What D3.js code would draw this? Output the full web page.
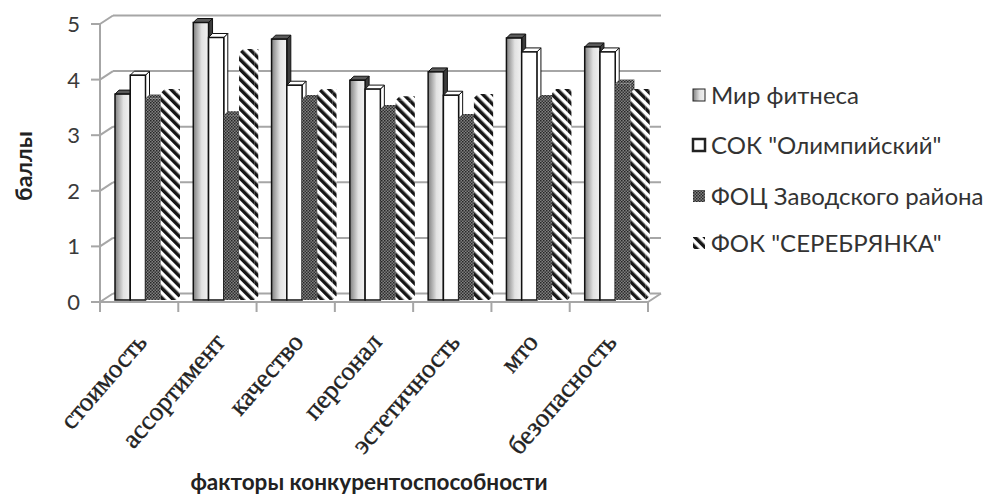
<!DOCTYPE html>
<html><head><meta charset="utf-8">
<script src="https://cdn.jsdelivr.net/npm/d3@7"></script>
<style>body{margin:0;background:#fff}</style>
</head><body><svg id="c" width="989" height="496"></svg>
<script>
const categories = ["стоимость","ассортимент","качество","персонал","эстетичность","мто","безопасность"];
const seriesNames = ["Мир фитнеса","СОК \"Олимпийский\"","ФОЦ Заводского района","ФОК \"СЕРЕБРЯНКА\""];
const mirFitnesa = [3.71,5.0,4.7,3.96,4.11,4.72,4.56];
const sokOlimp   = [4.05,4.73,3.87,3.8,3.69,4.47,4.47];
const focZavod   = [3.63,3.33,3.62,3.44,3.28,3.62,3.9];
const fokSerebr  = [3.73,4.45,3.73,3.6,3.64,3.73,3.73];
const yTicks = [0,1,2,3,4,5];
const xTitle = "факторы конкурентоспособности";
const yTitle = "баллы";

const seriesValues = [mirFitnesa, sokOlimp, focZavod, fokSerebr];
const svg = d3.select("#c");
const defs = svg.append("defs");

const g1 = defs.append("linearGradient").attr("id","gMir").attr("x1","0").attr("x2","1");
g1.append("stop").attr("offset","0").attr("stop-color","#808080");
g1.append("stop").attr("offset","0.55").attr("stop-color","#e2e2e2");
g1.append("stop").attr("offset","1").attr("stop-color","#f2f2f2");
const p3 = defs.append("pattern").attr("id","pFoc").attr("patternUnits","userSpaceOnUse").attr("width",3).attr("height",3);
p3.append("rect").attr("width",3).attr("height",3).attr("fill","#808080");
p3.append("rect").attr("width",1.5).attr("height",1.5).attr("fill","#262626");
p3.append("rect").attr("x",1.5).attr("y",1.5).attr("width",1.5).attr("height",1.5).attr("fill","#333");
const p4 = defs.append("pattern").attr("id","pFok").attr("patternUnits","userSpaceOnUse")
  .attr("width",7).attr("height",7).attr("patternTransform","rotate(-45)");
p4.append("rect").attr("width",7).attr("height",7).attr("fill","#fff");
p4.append("rect").attr("width",3.5).attr("height",7).attr("fill","#161616");

const fills = ["url(#gMir)","#ffffff","url(#pFoc)","url(#pFok)"];
const tops = ["#5a5a5a","#ffffff","url(#pFoc)","url(#pFok)"];
const sides = ["#3c3c3c","#ffffff","url(#pFoc)","url(#pFok)"];
const strokes = ["#111","#111","none","none"];

const x = d3.scaleBand().domain(categories).range([100,648]);
const xs = d3.scaleBand().domain(seriesNames).range([15,76]);
const yFront = d3.scaleLinear().domain([0,5]).range([302,24]);
const yBar = d3.scaleLinear().domain([0,5]).range([300,22.5]);
const DX = 13, DY = -8.5;

const grid = "#a6a6a6";
const gg = svg.append("g");
yTicks.forEach(t => {
  const yf = yFront(t), yb = yf + DY;
  gg.append("line").attr("x1",100+DX).attr("x2",648+DX).attr("y1",yb).attr("y2",yb)
    .attr("stroke",grid).attr("stroke-width",2);
  gg.append("line").attr("x1",100).attr("x2",100+DX).attr("y1",yf).attr("y2",yb)
    .attr("stroke",grid).attr("stroke-width",2);
  gg.append("line").attr("x1",91).attr("x2",100).attr("y1",yf).attr("y2",yf)
    .attr("stroke",grid).attr("stroke-width",2);
});
gg.append("line").attr("x1",93).attr("x2",648).attr("y1",yFront(0)).attr("y2",yFront(0)).attr("stroke",grid).attr("stroke-width",2);
gg.append("line").attr("x1",648).attr("x2",648+DX).attr("y1",yFront(0)).attr("y2",yFront(0)+DY).attr("stroke",grid).attr("stroke-width",2);
gg.append("line").attr("x1",100).attr("x2",100).attr("y1",yFront(5)).attr("y2",yFront(0)).attr("stroke",grid).attr("stroke-width",2);
const bounds = categories.map(c => x(c)).concat([x.range()[1]]);
bounds.forEach(b => gg.append("line").attr("x1",b).attr("x2",b).attr("y1",yFront(0)).attr("y2",yFront(0)+10).attr("stroke",grid).attr("stroke-width",2));

const bd = 4;
const bg = svg.append("g");
categories.forEach((c,ci) => {
  seriesNames.forEach((s,si) => {
    const v = seriesValues[si][ci];
    const x0 = x(c) + xs(s), w = xs.bandwidth();
    const yt = yBar(v), yb = yBar(0);
    bg.append("path").attr("d",`M${x0+w},${yt}L${x0+w+bd},${yt-bd}L${x0+w+bd},${yb-bd}L${x0+w},${yb}Z`)
      .attr("fill",sides[si]).attr("stroke",strokes[si]).attr("stroke-width",1);
    bg.append("path").attr("d",`M${x0},${yt}L${x0+bd},${yt-bd}L${x0+w+bd},${yt-bd}L${x0+w},${yt}Z`)
      .attr("fill",tops[si]).attr("stroke",strokes[si]).attr("stroke-width",1);
    bg.append("rect").attr("x",x0).attr("y",yt).attr("width",w).attr("height",yb-yt)
      .attr("fill",fills[si]).attr("stroke",strokes[si]).attr("stroke-width",si<2?1.5:0);
  });
});

svg.append("g").selectAll("text").data(yTicks).join("text")
  .attr("x",80).attr("y",d=>yFront(d)).attr("dy","0.36em").attr("text-anchor","end")
  .attr("font-family","Lato, sans-serif").attr("font-size",22).attr("fill","#3a3a3a").text(d=>d);

svg.append("text").attr("transform","translate(32,166) rotate(-90)").attr("text-anchor","middle")
  .attr("font-family","Lato, sans-serif").attr("font-weight","bold").attr("font-size",23).attr("fill","#222").text(yTitle);

svg.append("g").selectAll("text").data(categories).join("text")
  .attr("transform",d=>`translate(${x(d)+x.bandwidth()/2+9},${343}) rotate(-49)`)
  .attr("text-anchor","end").attr("font-family","'Liberation Serif', serif").attr("font-size",26.5)
  .attr("fill","#222").attr("stroke","#222").attr("stroke-width",0.4).text(d=>d);

svg.append("text").attr("x",369).attr("y",490).attr("text-anchor","middle")
  .attr("font-family","Lato, sans-serif").attr("font-weight","bold").attr("font-size",22.5).attr("fill","#222").text(xTitle);

const lg = svg.append("g");
const legY = [95,145,196,243];
seriesNames.forEach((s,i) => {
  lg.append("rect").attr("x",693).attr("y",legY[i]-6).attr("width",12).attr("height",12)
    .attr("fill",fills[i]).attr("stroke",i<2?"#222":"none").attr("stroke-width",i==1?2.5:1);
  lg.append("text").attr("x",711).attr("y",legY[i]).attr("dy","0.36em")
    .attr("font-family","Lato, sans-serif").attr("font-size",24).attr("fill","#333").text(s);
});
</script></body></html>
